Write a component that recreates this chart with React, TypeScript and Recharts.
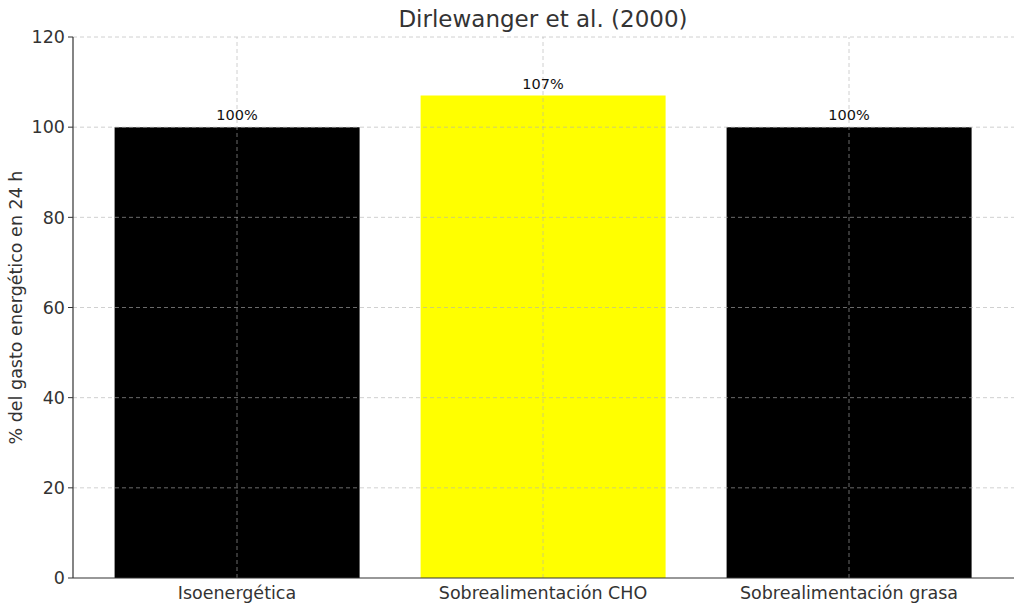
import React from 'react';
import { BarChart, Bar, XAxis, YAxis, ReferenceLine, Cell, LabelList, Label } from 'recharts';

const categories = ['Isoenergética', 'Sobrealimentación CHO', 'Sobrealimentación grasa'];
const values = [100, 107, 100];
const barColors = ['#000000', '#ffff00', '#000000'];
const yTicks = [0, 20, 40, 60, 80, 100, 120];

const data = categories.map((name, i) => ({ name, value: values[i] }));

const FONT = 'DejaVu Sans, sans-serif';
const AXIS = '#333333';
const GRID = '#b0b0b0';

const App: React.FC = () => {
  return (
    <div style={{ position: 'absolute', left: 0, top: 0, width: 1024, height: 611, background: '#fff', fontFamily: FONT }}>
      <div style={{ position: 'absolute', left: 0, width: 1086, top: 6, textAlign: 'center', fontSize: 23, color: AXIS }}>
        Dirlewanger et al. (2000)
      </div>
      <BarChart
        width={1024}
        height={611}
        data={data}
        margin={{ top: 37, right: 10, left: 0, bottom: 0 }}
        barCategoryGap="10%"
      >
        <XAxis
          dataKey="name"
          padding={{ left: 11, right: 12 }}
          height={33}
          tickLine={false}
          axisLine={{ stroke: AXIS, strokeWidth: 1.2 }}
          tick={{ fill: AXIS, fontSize: 17.5, fontFamily: FONT }}
          tickMargin={3}
        />
        <YAxis
          domain={[0, 120]}
          ticks={yTicks}
          width={73}
          axisLine={{ stroke: AXIS, strokeWidth: 1.2 }}
          tickLine={{ stroke: AXIS }}
          tickSize={5}
          tick={{ fill: AXIS, fontSize: 17.5, fontFamily: FONT }}
          tickMargin={3}
        >
          <Label
            value="% del gasto energético en 24 h"
            angle={-90}
            position="insideLeft"
            offset={16}
            style={{ textAnchor: 'middle', fill: AXIS, fontSize: 17.5, fontFamily: FONT }}
          />
        </YAxis>
        <Bar dataKey="value" isAnimationActive={false}>
          {data.map((d, i) => (
            <Cell key={d.name} fill={barColors[i]} />
          ))}
          <LabelList
            dataKey="value"
            position="top"
            offset={7}
            formatter={(v: any) => `${v}%`}
            style={{ fill: '#111', fontSize: 14.5, fontFamily: FONT }}
          />
        </Bar>
        {yTicks.filter((t) => t > 0).map((t) => (
          <ReferenceLine key={`y${t}`} y={t} stroke={GRID} strokeOpacity={0.6} strokeDasharray="4 3" />
        ))}
        {categories.map((c) => (
          <ReferenceLine key={`x${c}`} x={c} stroke={GRID} strokeOpacity={0.6} strokeDasharray="4 3" />
        ))}
      </BarChart>
    </div>
  );
};

export default App;
